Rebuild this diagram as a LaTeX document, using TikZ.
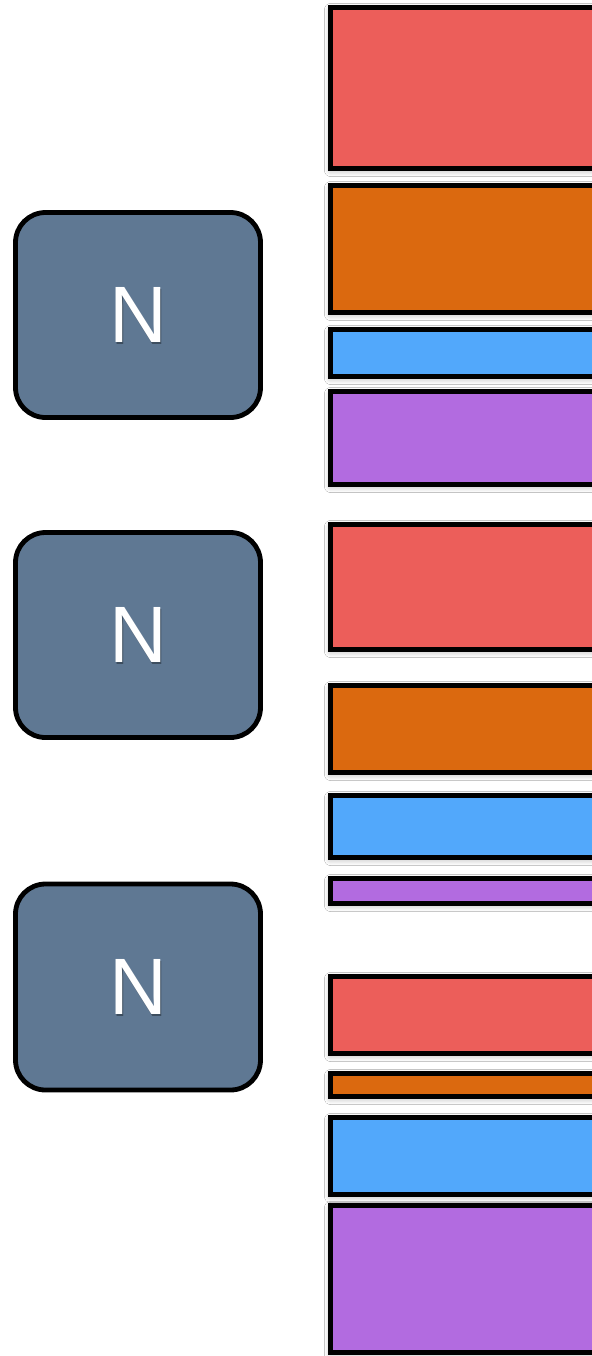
\documentclass[tikz,border=0pt]{standalone}
\usepackage{fontspec}
\setmainfont{Liberation Sans}
\usetikzlibrary{shadows.blur}
\definecolor{cred}{HTML}{EC5E5A}
\definecolor{corange}{HTML}{DB690F}
\definecolor{cblue}{HTML}{52A8FB}
\definecolor{cpurple}{HTML}{B26BE0}
\definecolor{cnode}{HTML}{5F7893}
\tikzset{
  bar/.style={draw=black, line width=2.3pt, blur shadow={shadow xshift=0pt, shadow yshift=-1pt, shadow blur radius=3pt, shadow blur steps=12, shadow opacity=30}},
  nbox/.style={draw=black, fill=cnode, line width=2.4pt, rounded corners=15pt, minimum width=122.5pt, minimum height=102.5pt, inner sep=0pt},
  nlabel/.style={font=\fontsize{40}{40}\selectfont, text=white, inner sep=0pt},
  nshadow/.style={font=\fontsize{40}{40}\selectfont, text=black, text opacity=0.35, inner sep=0pt},
}
\begin{document}
\begin{tikzpicture}[x=0.5pt,y=-0.5pt]
\useasboundingbox (0,0) rectangle (592,1356);
\fill[white] (0,0) rectangle (592,1356);
\foreach \t/\b/\c [count=\i] in {7.5/168.5/cred, 185.5/312.5/corange, 329.5/376.5/cblue, 391.5/484.5/cpurple,
  524.5/649.5/cred, 685.5/772.5/corange, 795.5/857.5/cblue, 878.5/903.5/cpurple,
  976.5/1053.5/cred, 1073.5/1096.5/corange, 1117.5/1194.5/cblue, 1205.5/1352.5/cpurple}
  \draw[bar, fill=\c] (330.5,\t) rectangle (660,\b) coordinate (bar\i);
\node[nbox] (n1) at (138,315) {};
\node[nbox] (n2) at (138,635) {};
\node[nbox, minimum height=103pt] (n3) at (138,987) {};
\foreach \n in {n1,n2,n3}{
  \node[nshadow] at ([xshift=0.8pt,yshift=-1.2pt]\n.center) {N};
  \node[nlabel] (\n-t) at (\n.center) {N};
}
\end{tikzpicture}
\end{document}
